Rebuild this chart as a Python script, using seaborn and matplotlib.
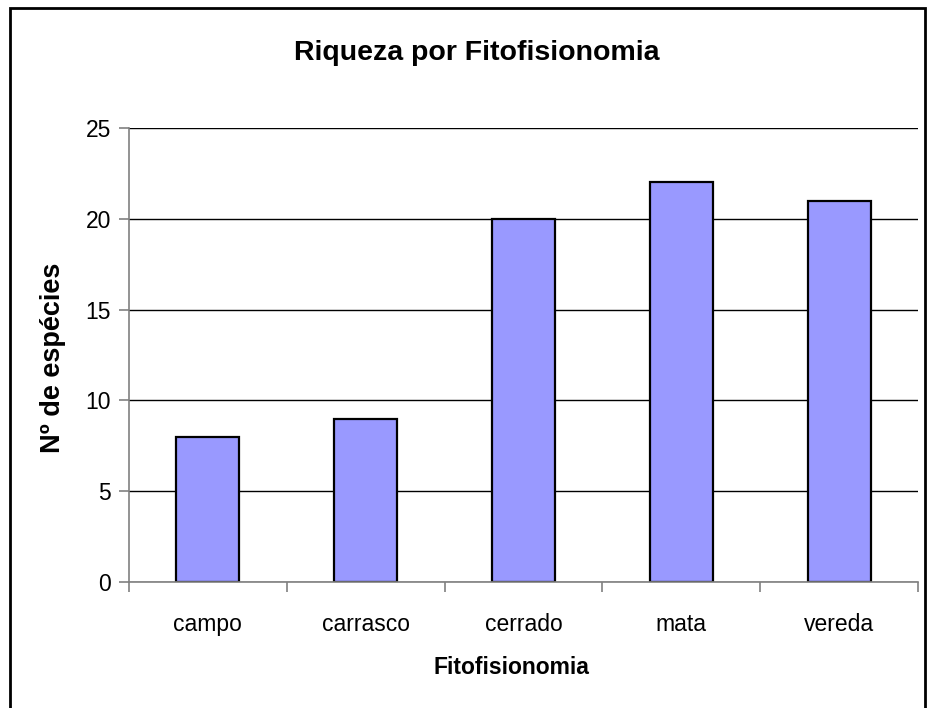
import matplotlib
matplotlib.use("Agg")
import matplotlib.pyplot as plt
from matplotlib.patches import Rectangle
from matplotlib.ticker import FixedLocator
import seaborn as sns

# data
categories = ["campo", "carrasco", "cerrado", "mata", "vereda"]
species = [8, 9, 20, 22, 21]
y_ticks = [0, 5, 10, 15, 20, 25]

sns.set_style("white")
plt.rcParams["font.family"] = ["Liberation Sans", "DejaVu Sans"]
plt.rcParams["text.color"] = "black"
plt.rcParams["xtick.labelcolor"] = "black"
plt.rcParams["ytick.labelcolor"] = "black"

fig = plt.figure(figsize=(9.27, 7.08), dpi=100)
ax = fig.add_axes([129 / 927, 126 / 708, 789 / 927, 454 / 708])

sns.barplot(x=categories, y=species, color="#9999FF", edgecolor="black",
            linewidth=1.6, width=0.4, saturation=1, ax=ax)

ax.set_ylim(0, 25)
ax.set_xlim(-0.5, len(categories) - 0.5)
ax.set_yticks(y_ticks)
ax.yaxis.grid(True, color="black", linewidth=1.0)
ax.set_axisbelow(True)

for side in ["top", "right"]:
    ax.spines[side].set_visible(False)
for side in ["left", "bottom"]:
    ax.spines[side].set_color("#808080")
    ax.spines[side].set_linewidth(1.2)

ax.tick_params(axis="y", direction="out", length=7, width=1.2,
               color="#808080", labelsize=16.5, pad=6, left=True,
               labelcolor="black")
ax.tick_params(axis="x", which="major", length=0, labelsize=16.5, pad=22,
               labelcolor="black")
ax.xaxis.set_minor_locator(FixedLocator([i - 0.5 for i in range(len(categories) + 1)]))
ax.tick_params(axis="x", which="minor", direction="out", length=7, width=1.2,
               color="#808080", bottom=True)

ax.set_xlabel("")
ax.set_ylabel("")
fig.text(477 / 927, 1 - 53 / 708, "Riqueza por Fitofisionomia",
         ha="center", va="center", fontsize=20.5, fontweight="bold", color="black")
fig.text(511 / 927, 1 - 667 / 708, "Fitofisionomia",
         ha="center", va="center", fontsize=16.5, fontweight="bold", color="black")
fig.text(53 / 927, 1 - 358 / 708, "Nº de espécies", rotation=90,
         ha="center", va="center", fontsize=19.5, fontweight="bold", color="black")

# chart frame
fig.patches.append(Rectangle((10 / 927, -0.05), (925 - 10) / 927, 1.05 - 8 / 708,
                             transform=fig.transFigure, fill=False,
                             edgecolor="black", linewidth=2))

fig.savefig("out.png", dpi=100)
